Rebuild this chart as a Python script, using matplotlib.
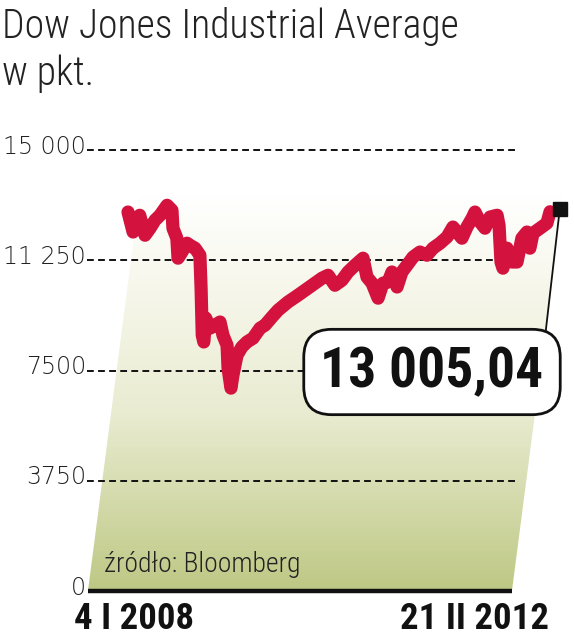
import numpy as np
import matplotlib
matplotlib.use("Agg")
import matplotlib.pyplot as plt
from matplotlib.colors import LinearSegmentedColormap
from matplotlib.patches import Polygon
import matplotlib.transforms as mtransforms

# tygodnie od 4 I 2008 i notowania DJIA (pkt)
weeks = [0, 2.6, 6, 8.7, 11.3, 13.8, 16.4, 20, 22.5, 23, 25, 25.6, 27.6, 30.2,
         31.7, 34.3, 36.8, 37.4, 38, 38.8, 39.8, 42, 44.5, 47.1, 48.6, 50.7,
         51.2, 52.7, 53.7, 55.8, 58.3, 60.9, 64, 67.6, 70.1, 73.7, 76.8, 81.9,
         87, 92.1, 95.7, 99.3, 102.4, 105.9, 109.5, 112.6, 116.2, 120.3, 122.3,
         124.9, 128, 130.5, 133.1, 135.1, 137.7, 140.2, 142.8, 145.9, 149.4,
         153, 156.1, 159.7, 163.3, 166.3, 168.9, 170.9, 173.5, 176.1, 177.6,
         180.2, 182.7, 185.3, 188.9, 189.9, 190.9, 191.9, 194, 196.5, 199.1,
         201.6, 204.2, 205.7, 207.3, 210.9, 214.4, 216]
values = [12890, 12210, 12780, 12100, 12340, 12610, 12780, 13120, 12950, 12340,
          12000, 11320, 11530, 11830, 11760, 11660, 11420, 10300, 8700, 8470,
          9280, 8940, 9040, 9150, 8700, 8360, 7580, 6900, 7340, 8020, 8300,
          8470, 8600, 8940, 9040, 9320, 9550, 9830, 10060, 10300, 10470, 10640,
          10740, 10400, 10570, 10850, 11080, 11320, 10680, 10470, 9960, 10470,
          10510, 10850, 10340, 10850, 11080, 11360, 11530, 11420, 11660, 11830,
          12040, 12380, 12170, 12000, 12380, 12680, 12890, 12550, 12340, 12720,
          12780, 12440, 11190, 10980, 11660, 11190, 11190, 12000, 12210, 11660,
          12170, 12340, 12510, 12900]
last_week = 221
last_value = 13005.04
yticks = [0, 3750, 7500, 11250, 15000]
ytick_labels = ["0", "3750", "7500", "11 250", "15 000"]
start_label = "4 I 2008"
end_label = "21 II 2012"

NARROW = ["Roboto Condensed", "DejaVu Sans"]

W, H = 574, 640
fig = plt.figure(figsize=(W / 100, H / 100), dpi=100)
ax = fig.add_axes([0, 0, 1, 1])
ax.axis("off")

# skala: piksele -> dane
x_per_px = 0.5118
y_per_px = 3750 / 110.25
ax.set_xlim(-128 * x_per_px, (W - 128) * x_per_px)
ax.set_ylim(-(H - 591) * y_per_px, 591 * y_per_px)

# tlo - skosny gradient
x_left, x_right = -20.5, 196.5
skew = 0.13 * x_per_px / y_per_px
top = 13500
poly = Polygon([(x_left, 0), (x_right, 0), (x_right + skew * top, top),
                (x_left + skew * top, top)], closed=True, fc="none", ec="none")
ax.add_patch(poly)
cmap = LinearSegmentedColormap.from_list(
    "olive", [(0, "#bec884"), (0.45, "#e9ecd1"), (0.8, "#f8f8ee"), (1, "#ffffff")])
grad = np.linspace(0, 1, 256).reshape(-1, 1)
im = ax.imshow(grad, extent=[x_left, x_right + skew * top, 0, top], origin="lower",
               aspect="auto", cmap=cmap, zorder=1)
im.set_clip_path(poly)

# siatka
ax.hlines(yticks[1:], -21, 198, colors="#111111", lw=1.4,
          linestyles=(0, (3.5, 2.2)), zorder=2)
ax.hlines(0, x_left, x_right, colors="#111111", lw=3.2, zorder=2)

trans = mtransforms.blended_transform_factory(ax.transAxes, ax.transData)
trans = trans + mtransforms.ScaledTranslation(0, 2.5 / 72, fig.dpi_scale_trans)
for v, lab in zip(yticks, ytick_labels):
    ax.text(86 / W, v, lab, transform=trans, ha="right", va="center",
            fontsize=17, fontweight="light", color="#222222", family=["DejaVu Sans"])

# linia notowan
ax.plot(weeks, values, color="#d4123e", lw=9.5, solid_joinstyle="round",
        solid_capstyle="round", zorder=3)
ax.plot([last_week], [last_value], marker="s", ms=10.5, color="#111111", zorder=4)
ax.plot([last_week, x_right + skew * 8870], [last_value, 8870], color="#111111",
        lw=1.3, zorder=4)

ax.text(432 / W, 1 - 372 / H, "13 005,04", transform=ax.transAxes, ha="center",
        va="center", fontsize=40, fontweight="black", fontstretch="condensed",
        color="#111111", family=NARROW,
        bbox=dict(boxstyle="round,pad=0.3,rounding_size=0.5", fc="white",
                  ec="#111111", lw=2), zorder=5)

# teksty
ax.text(2 / W, 1 - 38 / H, "Dow Jones Industrial Average", transform=ax.transAxes,
        ha="left", va="baseline", fontsize=28.5, fontweight="light",
        fontstretch="condensed", color="#222222", family=NARROW)
ax.text(2 / W, 1 - 85 / H, "w pkt.", transform=ax.transAxes,
        ha="left", va="baseline", fontsize=28.5, fontweight="light",
        fontstretch="condensed", color="#222222", family=NARROW)
ax.text(104 / W, 1 - 572 / H, "źródło: Bloomberg", transform=ax.transAxes,
        ha="left", va="baseline", fontsize=20, fontweight="light",
        fontstretch="condensed", color="#222222", family=NARROW)
ax.text(74 / W, 1 - 629 / H, start_label, transform=ax.transAxes,
        ha="left", va="baseline", fontsize=26.5, fontweight="bold",
        fontstretch="condensed", color="#111111", family=NARROW)
ax.text(549 / W, 1 - 629 / H, end_label, transform=ax.transAxes,
        ha="right", va="baseline", fontsize=26.5, fontweight="bold",
        fontstretch="condensed", color="#111111", family=NARROW)

fig.savefig("out.png", dpi=100)
